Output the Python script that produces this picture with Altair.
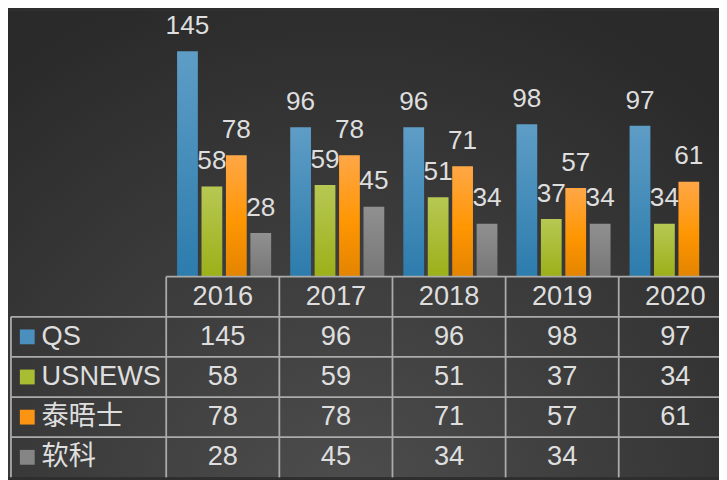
import altair as alt
import pandas as pd

# ---- data ----
years = ["2016", "2017", "2018", "2019", "2020"]
series = ["QS", "USNEWS", "泰晤士", "软科"]
qs = [145, 96, 96, 98, 97]
usnews = [58, 59, 51, 37, 34]
times = [78, 78, 71, 57, 61]
ruanke = [28, 45, 34, 34, None]

values = {"QS": qs, "USNEWS": usnews, "泰晤士": times, "软科": ruanke}
rows = []
for s in series:
    for y, v in zip(years, values[s]):
        if v is not None:
            rows.append({"year": y, "series": s, "value": v})
df = pd.DataFrame(rows)
df_years = pd.DataFrame({"year": years, "row": ["h"] * len(years)})
df_series = pd.DataFrame({"series": series})
row_domain = ["h"] + series
df_rows = pd.DataFrame({"row": row_domain})

# ---- layout / styles ----
W, H = 719, 472
FONT = "Liberation Sans, Arial, 'Noto Sans CJK SC', sans-serif"
TXT = "#dedede"
GRID = "#ababab"
FS = 27.5

solid = {"QS": "#4a8fbe", "USNEWS": "#a9bd33", "泰晤士": "#fb9412", "软科": "#858585"}
grads = {
    "QS": [("#5e9dc6", 0), ("#2c7cad", 1)],
    "USNEWS": [("#b7c853", 0), ("#9cb019", 1)],
    "泰晤士": [("#ffa747", 0), ("#ff9602", 0.55), ("#e38400", 1)],
    "软科": [("#909090", 0), ("#777777", 1)],
}

xscale = alt.Scale(domain=years, range=[160, 160 + 5 * 114.4], paddingInner=0, paddingOuter=0)
offscale = alt.Scale(domain=series, paddingInner=0.15, paddingOuter=0.39, align=0.57)
yscale = alt.Scale(domain=[0, 150], range=[269, 269 - 150 * 1.5724])
rowscale = alt.Scale(domain=row_domain, range=[269, 472], paddingInner=0, paddingOuter=0)

X = alt.X("year:N", scale=xscale, axis=None)

bg = alt.Chart(pd.DataFrame({"a": [0]})).mark_rect(
    fill={
        "gradient": "radial",
        "x1": 0.47, "y1": 0.88, "r1": 0,
        "x2": 0.47, "y2": 0.88, "r2": 0.78,
        "stops": [
            {"offset": 0, "color": "#4e4e4e"},
            {"offset": 1, "color": "#2a2a2a"},
        ],
    }
).encode(x=alt.value(0), x2=alt.value(W), y=alt.value(0), y2=alt.value(H))

layers = [bg]

for s in series:
    g = {
        "gradient": "linear", "x1": 0, "y1": 0, "x2": 0, "y2": 1,
        "stops": [{"offset": o, "color": c} for c, o in grads[s]],
    }
    bars = alt.Chart(df).transform_filter(alt.datum.series == s).mark_bar(fill=g).encode(
        x=X,
        xOffset=alt.XOffset("series:N", scale=offscale),
        y=alt.Y("value:Q", scale=yscale, axis=None),
    )
    layers.append(bars)

labels = alt.Chart(df).mark_text(
    baseline="alphabetic", dy=-17.5, fontSize=26.5, color=TXT, font=FONT
).encode(
    x=X,
    xOffset=alt.XOffset("series:N", scale=offscale),
    y=alt.Y("value:Q", scale=yscale, axis=None),
    text="value:Q",
)
layers.append(labels)

# table grid
hline_head = alt.Chart(df_rows).transform_filter(alt.datum.row == "h").mark_rule(
    color=GRID, strokeWidth=1.8
).encode(
    y=alt.Y("row:N", scale=rowscale, axis=None, bandPosition=0),
    x=alt.value(160), x2=alt.value(W),
)
hline_rows = alt.Chart(df_rows).transform_filter(alt.datum.row != "h").mark_rule(
    color=GRID, strokeWidth=1.8
).encode(
    y=alt.Y("row:N", scale=rowscale, axis=None, bandPosition=0),
    x=alt.value(3), x2=alt.value(W),
)
vlines = alt.Chart(df_years).mark_rule(color=GRID, strokeWidth=1.8).encode(
    x=alt.X("year:N", scale=xscale, axis=None, bandPosition=0),
    y=alt.value(269), y2=alt.value(H),
)
vline_left = alt.Chart(df_rows).transform_filter(alt.datum.row == "QS").mark_rule(
    color=GRID, strokeWidth=1.8
).encode(
    x=alt.value(3),
    y=alt.Y("row:N", scale=rowscale, axis=None, bandPosition=0),
    y2=alt.value(H),
)
layers += [hline_head, hline_rows, vlines, vline_left]

head_txt = alt.Chart(df_years).mark_text(
    fontSize=FS, color=TXT, font=FONT, baseline="middle"
).encode(
    x=X, y=alt.Y("row:N", scale=rowscale, axis=None), text="year:N"
)
cell_txt = alt.Chart(df).mark_text(
    fontSize=FS, color=TXT, font=FONT, baseline="middle"
).encode(
    x=X, y=alt.Y("series:N", scale=rowscale, axis=None), text="value:Q"
)
row_txt = alt.Chart(df_series).mark_text(
    fontSize=FS, color=TXT, font=FONT, baseline="middle", align="left"
).encode(
    x=alt.value(34), y=alt.Y("series:N", scale=rowscale, axis=None), text="series:N"
)
keys = alt.Chart(df_series).mark_square(size=225, opacity=1).encode(
    x=alt.value(19.5),
    y=alt.Y("series:N", scale=rowscale, axis=None),
    color=alt.Color("series:N", scale=alt.Scale(domain=series, range=[solid[s] for s in series]), legend=None),
)
layers += [head_txt, cell_txt, row_txt, keys]

chart = alt.layer(*layers).resolve_scale(y="independent").properties(
    width=W, height=H, padding=0, autosize=alt.AutoSizeParams(type="none"),
    background="#2e2e2e",
).configure_view(stroke=None)

chart.save("out.html", embed_options={"renderer": "svg", "actions": False})
